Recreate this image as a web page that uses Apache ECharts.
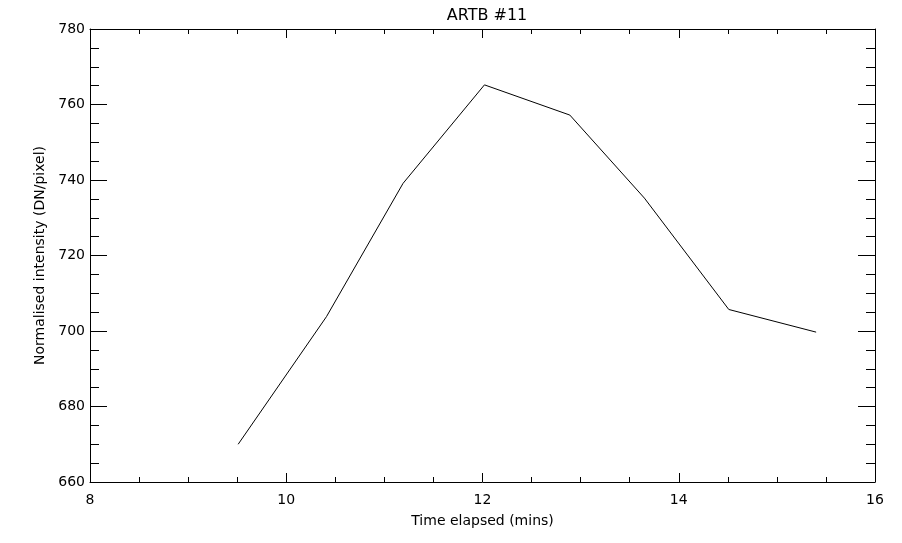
<!DOCTYPE html>
<html>
<head>
<meta charset="utf-8">
<script src="https://cdn.jsdelivr.net/npm/echarts@6/dist/echarts.min.js"></script>
<style>html,body{margin:0;padding:0;background:#fff}#c{width:902px;height:543px}</style>
</head>
<body>
<div id="c"></div>
<script>
var timeMins = [9.51, 10.41, 11.19, 12.02, 12.89, 13.65, 14.51, 15.40];
var intensity = [670.0, 703.8, 739.1, 765.2, 757.2, 735.2, 705.7, 699.7];
var xTicks = [8, 10, 12, 14, 16];
var yTicks = [660, 680, 700, 720, 740, 760, 780];

var font = 'DejaVu Sans, Liberation Sans, sans-serif';
var chart = echarts.init(document.getElementById('c'), null, {renderer: 'canvas'});
var lineStyle = {color: '#000', width: 1};
function xAx(pos, show) {
  return {
    type: 'value', position: pos, min: 8, max: 16, interval: 2,
    axisLine: {show: true, onZero: false, lineStyle: lineStyle},
    axisTick: {show: true, inside: true, length: 9, lineStyle: lineStyle},
    minorTick: {show: true, splitNumber: 4, length: 5, lineStyle: lineStyle},
    splitLine: {show: false},
    axisLabel: {show: show, color: '#000', fontFamily: font, fontSize: 14, margin: 11},
    name: show ? 'Time elapsed (mins)' : '', nameLocation: 'middle', nameGap: 32,
    nameTextStyle: {color: '#000', fontFamily: font, fontSize: 14}
  };
}
function yAx(pos, show) {
  return {
    type: 'value', position: pos, min: 660, max: 780, interval: 20,
    axisLine: {show: true, onZero: false, lineStyle: lineStyle},
    axisTick: {show: true, inside: true, length: 17, lineStyle: lineStyle},
    minorTick: {show: true, splitNumber: 4, length: 9, lineStyle: lineStyle},
    splitLine: {show: false},
    axisLabel: {show: show, color: '#000', fontFamily: font, fontSize: 14, margin: 5},
    name: show ? 'Normalised intensity (DN/pixel)' : '', nameLocation: 'middle', nameGap: 42,
    nameTextStyle: {color: '#000', fontFamily: font, fontSize: 14}
  };
}
var data = timeMins.map(function (t, i) { return [t, intensity[i]]; });
chart.setOption({
  animation: false,
  backgroundColor: '#fff',
  title: {text: 'ARTB #11', left: 482, textAlign: 'center', top: 3,
    textStyle: {color: '#000', fontFamily: font, fontSize: 16, fontWeight: 'normal'}},
  grid: {left: 90, top: 29, right: 27, bottom: 61},
  xAxis: [xAx('bottom', true), xAx('top', false)],
  yAxis: [yAx('left', true), yAx('right', false)],
  series: [{
    type: 'line', data: data, xAxisIndex: 0, yAxisIndex: 0,
    symbol: 'none', lineStyle: {color: '#000', width: 1}
  }]
});
</script>
</body>
</html>
